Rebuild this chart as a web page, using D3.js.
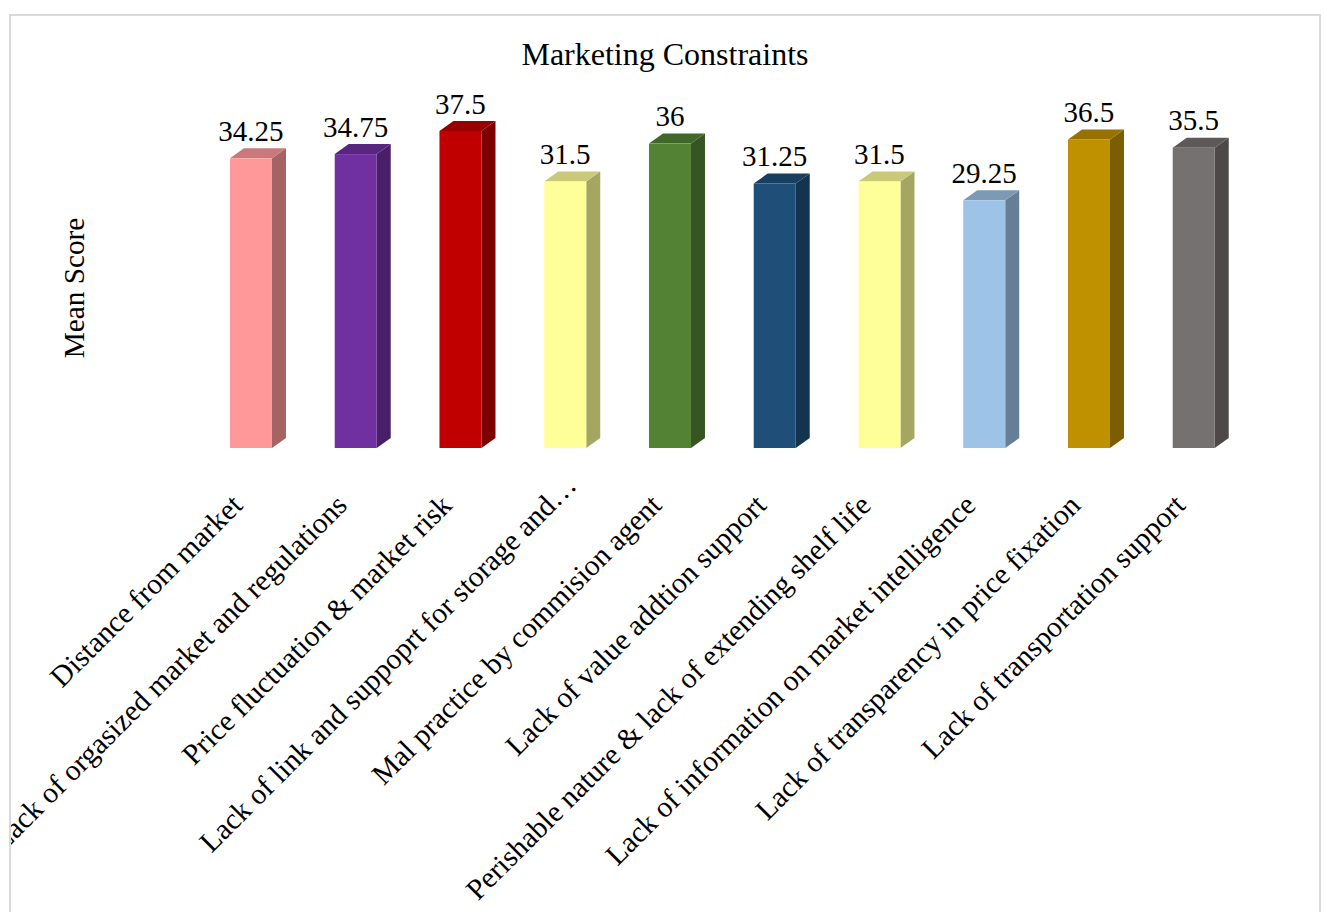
<!DOCTYPE html>
<html>
<head>
<meta charset="utf-8">
<script src="https://cdn.jsdelivr.net/npm/d3@7"></script>
<style>
  html, body { margin: 0; padding: 0; background: #ffffff; }
  svg { display: block; }
  text { font-family: "Liberation Serif", "Times New Roman", serif; fill: #000; }
</style>
</head>
<body>
<svg id="chart" width="1325" height="912"></svg>
<script>
// ---- data ----
const categories = [
  "Distance from market",
  "Lack of orgasized market and regulations",
  "Price fluctuation & market risk",
  "Lack of link and suppoprt for storage and\u2026",
  "Mal practice by commision agent",
  "Lack of value addtion support",
  "Perishable nature & lack of extending shelf life",
  "Lack of information on market intelligence",
  "Lack of transparency in price fixation",
  "Lack of transportation support"
];
const values = [34.25, 34.75, 37.5, 31.5, 36, 31.25, 31.5, 29.25, 36.5, 35.5];
const valueLabels = ["34.25", "34.75", "37.5", "31.5", "36", "31.25", "31.5", "29.25", "36.5", "35.5"];
const barColors = ["#FF9999", "#7030A0", "#C00000", "#FFFF99", "#548235",
                   "#1F4E79", "#FFFF99", "#9DC3E6", "#BF9000", "#767171"];
const chartTitle = "Marketing Constraints";
const yTitle = "Mean Score";

// ---- layout ----
const svg = d3.select("#chart");
const depthX = 14, depthY = 10;

const x = d3.scaleBand()
  .domain(categories)
  .range([198.6, 1246.1])
  .paddingInner(0.599)
  .paddingOuter(0.2995);

const y = d3.scaleLinear().domain([0, 40]).range([446, 110]);
const floorY = y(0) + 2;

// outer border
svg.append("rect")
  .attr("x", 10).attr("y", 15)
  .attr("width", 1310).attr("height", 920)
  .attr("fill", "#fff")
  .attr("stroke", "#d9d9d9").attr("stroke-width", 2);

svg.append("defs").append("clipPath").attr("id", "inner")
  .append("rect").attr("x", 11).attr("y", 16).attr("width", 1308).attr("height", 900);

// title
svg.append("text")
  .attr("x", 665).attr("y", 65)
  .attr("text-anchor", "middle")
  .style("font-size", "32px")
  .text(chartTitle);

// y title
svg.append("text")
  .attr("transform", "translate(84,288) rotate(-90)")
  .attr("text-anchor", "middle")
  .style("font-size", "29.3px")
  .text(yTitle);

const shade = (c, k) => {
  const r = d3.rgb(c);
  return d3.rgb(r.r * k, r.g * k, r.b * k).formatHex();
};

const data = categories.map((c, i) => ({ c, v: values[i], lab: valueLabels[i], col: barColors[i] }));

const g = svg.append("g");
const bars = g.selectAll("g.bar").data(data).join("g").attr("class", "bar");

// side face
bars.append("path")
  .attr("fill", d => shade(d.col, 0.65))
  .attr("d", d => {
    const x1 = x(d.c) + x.bandwidth();
    const t = y(d.v);
    return `M${x1},${t}L${x1 + depthX},${t - depthY}L${x1 + depthX},${floorY - depthY}L${x1},${floorY}Z`;
  });
// top face
bars.append("path")
  .attr("fill", d => shade(d.col, 0.79))
  .attr("d", d => {
    const x0 = x(d.c), x1 = x0 + x.bandwidth();
    const t = y(d.v);
    return `M${x0},${t}L${x0 + depthX},${t - depthY}L${x1 + depthX},${t - depthY}L${x1},${t}Z`;
  });
// front face
bars.append("rect")
  .attr("x", d => x(d.c))
  .attr("y", d => y(d.v))
  .attr("width", x.bandwidth())
  .attr("height", d => floorY - y(d.v))
  .attr("fill", d => d.col);

// value labels
bars.append("text")
  .attr("x", d => x(d.c) + x.bandwidth() / 2)
  .attr("y", d => y(d.v) - 17.5)
  .attr("text-anchor", "middle")
  .style("font-size", "29px")
  .text(d => d.lab);

// category labels (truncated labels sit a little further along their line)
svg.append("g").attr("clip-path", "url(#inner)")
  .selectAll("text").data(data).join("text")
  .attr("transform", d => {
    const extra = d.c.endsWith("\u2026") ? 20 : 0;
    return `translate(${x(d.c) + x.bandwidth() / 2 - 7 + extra},${507 - extra}) rotate(-45)`;
  })
  .attr("text-anchor", "end")
  .style("font-size", "29.5px")
  .text(d => d.c);
</script>
</body>
</html>
